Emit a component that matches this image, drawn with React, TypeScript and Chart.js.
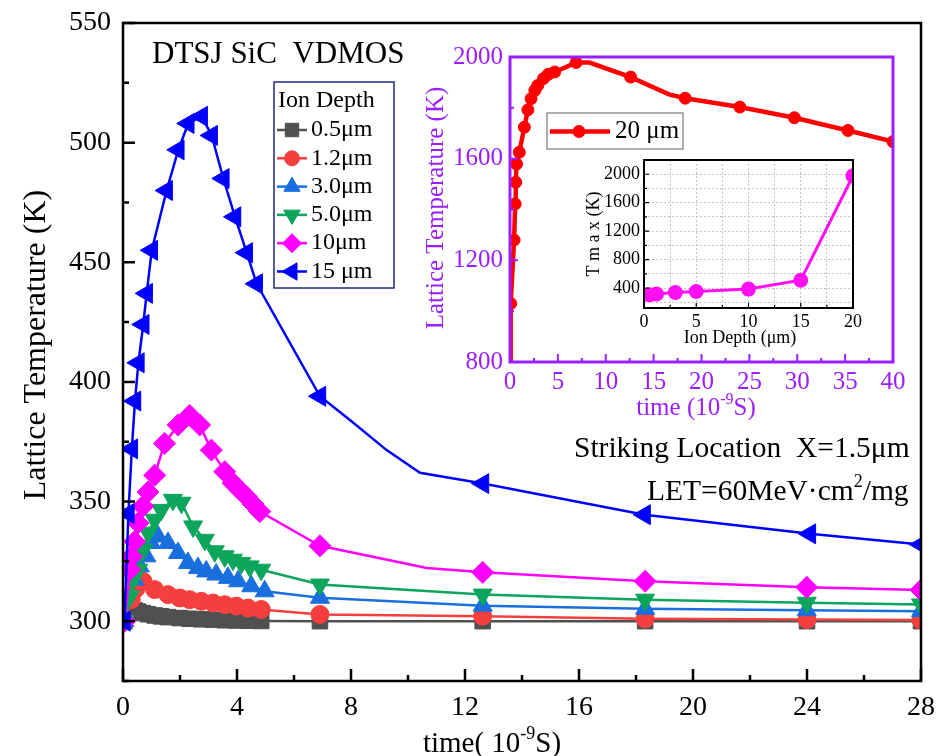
import React, { useEffect, useRef } from "react";
import { Chart, registerables } from "chart.js";
import { drawPoint } from "chart.js/helpers";

Chart.register(...registerables);

const FONT = '"Liberation Serif", "Times New Roman", serif';
const PURPLE = "#9B1EFF";

// ---------- main chart data ----------
const mainXTicks = [0, 4, 8, 12, 16, 20, 24, 28];
const mainXMinor = [2, 6, 10, 14, 18, 22, 26];
const mainYTicks = [300, 350, 400, 450, 500, 550];
const mainYMinor = [275, 325, 375, 425, 475, 525];

const seriesLabels = ["0.5μm", "1.2μm", "3.0μm", "5.0μm", "10μm", "15 μm"];

const time05 = [0.05, 0.29, 0.41, 0.53, 0.7, 0.88, 1.11, 1.34, 1.58, 1.99, 2.34, 2.75, 3.16, 3.57, 3.98, 4.39, 4.85, 6.91, 12.62, 18.32, 24, 28];
const temp05 = [300, 305, 304.5, 304, 303.4, 302.9, 302.4, 302, 301.7, 301.3, 301, 300.8, 300.6, 300.4, 300.3, 300.2, 300.1, 300, 300, 300, 300, 300];

const time12 = [0.05, 0.29, 0.45, 0.7, 1.11, 1.58, 1.99, 2.34, 2.75, 3.16, 3.57, 3.98, 4.39, 4.85, 6.91, 12.62, 18.32, 24, 28];
const temp12 = [300, 309, 313.5, 316.7, 313.2, 311.1, 309.7, 309, 308.3, 307.6, 306.9, 306.3, 305.5, 304.9, 302.8, 302.1, 301, 300.7, 300.5];

const time30 = [0.05, 0.41, 0.59, 0.82, 0.99, 1.23, 1.58, 1.93, 2.28, 2.63, 2.92, 3.27, 3.68, 4.04, 4.5, 4.97, 6.91, 12.62, 18.32, 23.99, 28];
const temp30 = [300, 317.4, 322.9, 327.1, 332.7, 335.4, 332.7, 328.5, 324.3, 322.2, 320.8, 319.5, 318.1, 316.7, 314.6, 312.5, 309.8, 306.5, 305.2, 304.6, 304.2];

const time50 = [0.05, 0.24, 0.35, 0.53, 0.7, 0.88, 1.11, 1.34, 1.75, 2.05, 2.46, 2.87, 3.22, 3.57, 3.86, 4.15, 4.45, 4.85, 6.91, 12.62, 18.32, 23.99, 28];
const temp50 = [300, 310.4, 317.4, 321.5, 329.9, 337, 342.4, 346.5, 350.7, 349.5, 339.6, 334, 329.2, 327.1, 325.7, 324.3, 322.9, 321.5, 315.3, 311.1, 309, 307.7, 307];

const time10 = [0.05, 0.24, 0.29, 0.41, 0.53, 0.7, 0.88, 1.11, 1.46, 1.93, 2.34, 2.69, 3.1, 3.57, 3.86, 4.09, 4.33, 4.56, 4.8, 6.91, 10.66, 12.62, 18.32, 23.99, 28];
const temp10 = [300, 321.5, 327, 333.3, 341, 348, 354, 361, 374.3, 382, 386, 382, 371.5, 362.5, 357.7, 354.9, 352.1, 349, 345.8, 331.5, 322.2, 320.4, 316.7, 314.2, 313];
const mark10 = [1, 1, 1, 1, 1, 1, 1, 1, 1, 1, 1, 1, 1, 1, 1, 1, 1, 1, 1, 1, 0, 1, 1, 1, 1];

const time15 = [0.05, 0.19, 0.31, 0.42, 0.54, 0.71, 0.83, 1.01, 1.53, 1.94, 2.29, 2.76, 3.11, 3.52, 3.93, 4.34, 4.69, 6.91, 8.07, 9.25, 10.42, 12.63, 18.3, 24.1, 28];
const temp15 = [300, 345, 372, 392, 408, 424, 437, 455, 480, 497, 508, 511, 503, 485, 469, 454, 441, 394, 383, 371.5, 362, 357.5, 344.5, 336.5, 332];
const mark15 = [1, 1, 1, 1, 1, 1, 1, 1, 1, 1, 1, 1, 1, 1, 1, 1, 1, 1, 0, 0, 0, 1, 1, 1, 1];

// ---------- inset 1 (20 μm) ----------
const in1XTicks = [0, 5, 10, 15, 20, 25, 30, 35, 40];
const in1XMinor = [2.5, 7.5, 12.5, 17.5, 22.5, 27.5, 32.5, 37.5];
const in1YTicks = [800, 1200, 1600, 2000];
const in1YMinor = [1000, 1400, 1800];
const time20 = [0.04, 0.07, 0.43, 0.54, 0.6, 0.68, 0.97, 1.5, 1.87, 2.2, 2.6, 2.9, 3.5, 4.0, 4.67, 6.9, 8.3, 12.6, 16.6, 18.3, 24.0, 29.7, 35.3, 40];
const temp20 = [800, 1030, 1280, 1422, 1507, 1579, 1625, 1724, 1792, 1836, 1869, 1888, 1915, 1932, 1941, 1978, 1978, 1921, 1853, 1838, 1803, 1761, 1711, 1667];
const mark20 = [0, 1, 1, 1, 1, 1, 1, 1, 1, 1, 1, 1, 1, 1, 1, 1, 0, 1, 0, 1, 1, 1, 1, 1];

// ---------- inset 2 (Tmax vs ion depth) ----------
const in2XGrid = [0, 2.5, 5, 7.5, 10, 12.5, 15, 17.5, 20];
const in2XLabels = [0, 5, 10, 15, 20];
const in2YGrid = [200, 400, 600, 800, 1000, 1200, 1400, 1600, 1800, 2000, 2200];
const in2YLabels = [400, 800, 1200, 1600, 2000];
const ionDepth = [0.5, 1.2, 3.0, 5.0, 10, 15, 20];
const tMax = [305, 317, 337, 351, 386, 511, 1978];

type Part = { t: string; sup?: boolean };
type TextItem = { parts: Part[]; x: number; y: number; size: number; color?: string; align?: "left" | "center"; rotate?: number };

function drawRich(ctx: CanvasRenderingContext2D, it: TextItem) {
  ctx.save();
  ctx.translate(it.x, it.y);
  if (it.rotate) ctx.rotate(it.rotate);
  ctx.fillStyle = it.color || "#000";
  ctx.textBaseline = "middle";
  ctx.textAlign = "left";
  const f = (p: Part) => `${p.sup ? Math.round(it.size * 0.62) : it.size}px ${FONT}`;
  const widths = it.parts.map((p) => {
    ctx.font = f(p);
    return ctx.measureText(p.t).width;
  });
  const total = widths.reduce((a, b) => a + b, 0);
  let cx = it.align === "center" ? -total / 2 : 0;
  it.parts.forEach((p, i) => {
    ctx.font = f(p);
    ctx.fillText(p.t, cx, p.sup ? -it.size * 0.33 : 0);
    cx += widths[i];
  });
  ctx.restore();
}

function textPlugin(items: TextItem[]) {
  return {
    id: "texts",
    afterDraw(chart: any) {
      items.forEach((it) => drawRich(chart.ctx, it));
    },
  };
}

function framePlugin(cfg: { color: string; width: number; tickWidth: number; major: number; minor: number; xMajor: number[]; xMinor: number[]; yMajor: number[]; yMinor: number[] }) {
  return {
    id: "frameTicks",
    afterDatasetsDraw(chart: any) {
      const { ctx, chartArea: a } = chart;
      const xs = chart.scales.x;
      const ys = chart.scales.y;
      ctx.save();
      ctx.strokeStyle = cfg.color;
      ctx.lineWidth = cfg.tickWidth;
      ctx.beginPath();
      const xt = (v: number, len: number) => {
        const p = xs.getPixelForValue(v);
        ctx.moveTo(p, a.bottom);
        ctx.lineTo(p, a.bottom - len);
      };
      const yt = (v: number, len: number) => {
        const p = ys.getPixelForValue(v);
        ctx.moveTo(a.left, p);
        ctx.lineTo(a.left + len, p);
      };
      cfg.xMajor.forEach((v) => xt(v, cfg.major));
      cfg.xMinor.forEach((v) => xt(v, cfg.minor));
      cfg.yMajor.forEach((v) => yt(v, cfg.major));
      cfg.yMinor.forEach((v) => yt(v, cfg.minor));
      ctx.stroke();
      ctx.lineWidth = cfg.width;
      ctx.strokeRect(a.left, a.top, a.right - a.left, a.bottom - a.top);
      ctx.restore();
    },
  };
}

type Legend = { box: [number, number, number, number]; boxColor: string; boxWidth: number; title?: string; titleY?: number; x0: number; x1: number; xm: number; xt: number; ys: number[]; size: number };

function legendPlugin(cfg: Legend) {
  return {
    id: "customLegend",
    afterDatasetsDraw(chart: any) {
      const ctx = chart.ctx as CanvasRenderingContext2D;
      const [bx, by, bw, bh] = cfg.box;
      ctx.save();
      ctx.fillStyle = "#fff";
      ctx.fillRect(bx, by, bw, bh);
      ctx.strokeStyle = cfg.boxColor;
      ctx.lineWidth = cfg.boxWidth;
      ctx.strokeRect(bx, by, bw, bh);
      ctx.font = `${cfg.size}px ${FONT}`;
      ctx.textBaseline = "middle";
      ctx.textAlign = "left";
      if (cfg.title) {
        ctx.fillStyle = "#000";
        ctx.fillText(cfg.title, bx + 4, cfg.titleY as number);
      }
      chart.data.datasets.forEach((ds: any, i: number) => {
        const y = cfg.ys[i];
        ctx.strokeStyle = ds.borderColor;
        ctx.lineWidth = ds.borderWidth;
        ctx.beginPath();
        ctx.moveTo(cfg.x0, y);
        ctx.lineTo(cfg.x1, y);
        ctx.stroke();
        ctx.fillStyle = ds.borderColor;
        ctx.lineWidth = 1;
        drawPoint(ctx, { pointStyle: ds.pointStyle, rotation: ds.pointRotation || 0, radius: ds.legendRadius, borderWidth: 1 }, cfg.xm, y);
        ctx.fillStyle = "#000";
        ctx.fillText(ds.label, cfg.xt, y);
      });
      ctx.restore();
    },
  };
}

function makeSeries(label: string, times: number[], temps: number[], color: string, style: string, rot: number, r: number, marks?: number[], order = 0) {
  return {
    label,
    data: times.map((t, i) => ({ x: t, y: temps[i] })),
    borderColor: color,
    backgroundColor: color,
    pointBackgroundColor: color,
    pointBorderColor: color,
    pointBorderWidth: 1,
    borderWidth: 2.5,
    pointStyle: style,
    pointRotation: rot,
    pointRadius: marks ? (c: any) => (marks[c.dataIndex] ? r : 0) : r,
    legendRadius: r - 1.5,
    tension: 0,
    order,
  };
}

function fixedTicks(vals: number[]) {
  return (s: any) => {
    s.ticks = vals.map((v) => ({ value: v }));
  };
}

const TICKS = (size: number, pad: number, color = "#000") => ({
  font: { family: FONT, size },
  color,
  padding: pad,
  maxRotation: 0,
  autoSkip: false,
  callback: (v: any) => String(v),
});

const fitX = (h: number) => (s: any) => {
  s.height = h;
  s.paddingLeft = 0;
  s.paddingRight = 0;
};
const fitY = (w: number) => (s: any) => {
  s.width = w;
  s.paddingTop = 0;
  s.paddingBottom = 0;
};

export default function App() {
  const mainRef = useRef<HTMLCanvasElement>(null);
  const in1Ref = useRef<HTMLCanvasElement>(null);
  const in2Ref = useRef<HTMLCanvasElement>(null);

  useEffect(() => {
    const charts: Chart[] = [];

    // ---- main chart ----
    const mainDatasets = [
      makeSeries(seriesLabels[0], time05, temp05, "#505050", "rect", 0, 11, undefined, 0),
      makeSeries(seriesLabels[1], time12, temp12, "#F53F3F", "circle", 0, 9, undefined, -1),
      makeSeries(seriesLabels[2], time30, temp30, "#1A6FDF", "triangle", 0, 11, undefined, -2),
      makeSeries(seriesLabels[3], time50, temp50, "#0CA55B", "triangle", 180, 11, undefined, -3),
      makeSeries(seriesLabels[4], time10, temp10, "#FF00FF", "rectRot", 0, 11, mark10, -4),
      makeSeries(seriesLabels[5], time15, temp15, "#0000FF", "triangle", 270, 11.5, mark15, -5),
    ];
    charts.push(
      new Chart(mainRef.current as HTMLCanvasElement, {
        type: "line",
        data: { datasets: mainDatasets as any },
        options: {
          responsive: false,
          animation: false,
          devicePixelRatio: 1,
          events: [],
          layout: { padding: { left: 0, right: 19, top: 23, bottom: 0 } },
          plugins: { legend: { display: false }, tooltip: { enabled: false } },
          scales: {
            x: {
              type: "linear",
              min: 0,
              max: 28,
              afterBuildTicks: fixedTicks(mainXTicks),
              ticks: TICKS(28, 10),
              grid: { display: false, drawTicks: false },
              border: { display: false },
              afterFit: fitX(75),
            },
            y: {
              type: "linear",
              min: 275,
              max: 550,
              afterBuildTicks: fixedTicks(mainYTicks),
              ticks: TICKS(28, 12),
              grid: { display: false, drawTicks: false },
              border: { display: false },
              afterFit: fitY(123),
            },
          },
        } as any,
        plugins: [
          framePlugin({ color: "#000", width: 2.5, tickWidth: 2.5, major: 12, minor: 6, xMajor: mainXTicks, xMinor: mainXMinor, yMajor: mainYTicks, yMinor: mainYMinor }),
          legendPlugin({ box: [274, 82, 120, 206], boxColor: "#1F2A78", boxWidth: 1.5, title: "Ion Depth", titleY: 101, x0: 277, x1: 307, xm: 292, xt: 311, ys: [130, 158.3, 186.6, 214.9, 243.2, 271.5], size: 24 }),
          textPlugin([
            { parts: [{ t: "DTSJ SiC  VDMOS" }], x: 152, y: 55, size: 31 },
            { parts: [{ t: "Striking Location  X=1.5μm" }], x: 574, y: 449, size: 29.5 },
            { parts: [{ t: "LET=60MeV·cm" }, { t: "2", sup: true }, { t: "/mg" }], x: 647, y: 492, size: 29.5 },
            { parts: [{ t: "Lattice Temperature (K)" }], x: 37, y: 345, size: 32, align: "center", rotate: -Math.PI / 2 },
            { parts: [{ t: "time( 10" }, { t: "-9", sup: true }, { t: "S)" }], x: 492, y: 744, size: 29, align: "center" },
          ]),
        ],
      })
    );

    // ---- inset 1 ----
    const ds20 = makeSeries("20 μm", time20, temp20, "#FF0000", "circle", 0, 6, mark20, 0);
    (ds20 as any).borderWidth = 4.5;
    (ds20 as any).legendRadius = 6;
    charts.push(
      new Chart(in1Ref.current as HTMLCanvasElement, {
        type: "line",
        data: { datasets: [ds20] as any },
        options: {
          responsive: false,
          animation: false,
          devicePixelRatio: 1,
          events: [],
          layout: { padding: { left: 0, right: 27, top: 27, bottom: 0 } },
          plugins: { legend: { display: false }, tooltip: { enabled: false } },
          scales: {
            x: {
              type: "linear",
              min: 0,
              max: 40,
              afterBuildTicks: fixedTicks(in1XTicks),
              ticks: TICKS(25, 5, PURPLE),
              grid: { display: false, drawTicks: false },
              border: { display: false },
              afterFit: fitX(68),
            },
            y: {
              type: "linear",
              min: 800,
              max: 2000,
              afterBuildTicks: fixedTicks(in1YTicks),
              ticks: TICKS(25, 7, PURPLE),
              grid: { display: false, drawTicks: false },
              border: { display: false },
              afterFit: fitY(110),
            },
          },
        } as any,
        plugins: [
          framePlugin({ color: PURPLE, width: 3, tickWidth: 2, major: 8, minor: 4, xMajor: in1XTicks, xMinor: in1XMinor, yMajor: in1YTicks, yMinor: in1YMinor }),
          legendPlugin({ box: [147, 83, 136, 36], boxColor: "#7a7a7a", boxWidth: 1.2, x0: 150, x1: 210, xm: 179, xt: 215, ys: [101.5], size: 25 }),
          textPlugin([
            { parts: [{ t: "Lattice Temperature (K)" }], x: 36, y: 178, size: 25, color: PURPLE, align: "center", rotate: -Math.PI / 2 },
            { parts: [{ t: "time (10" }, { t: "-9", sup: true }, { t: "S)" }], x: 296, y: 378, size: 25, color: PURPLE, align: "center" },
          ]),
        ],
      })
    );

    // ---- inset 2 ----
    const dsT = {
      label: "Tmax",
      data: ionDepth.map((d, i) => ({ x: d, y: tMax[i] })),
      borderColor: "#FF10F0",
      backgroundColor: "#FF10F0",
      pointBackgroundColor: "#FF10F0",
      pointBorderColor: "#FF10F0",
      borderWidth: 3,
      pointRadius: 6,
      pointStyle: "circle",
      tension: 0,
    };
    const whiteArea = {
      id: "whiteArea",
      beforeDraw(chart: any) {
        const a = chart.chartArea;
        chart.ctx.save();
        chart.ctx.fillStyle = "#fff";
        chart.ctx.fillRect(a.left, a.top, a.right - a.left, a.bottom - a.top);
        chart.ctx.restore();
      },
    };
    charts.push(
      new Chart(in2Ref.current as HTMLCanvasElement, {
        type: "line",
        data: { datasets: [dsT] as any },
        options: {
          responsive: false,
          animation: false,
          devicePixelRatio: 1,
          events: [],
          layout: { padding: { left: 0, right: 17, top: 10, bottom: 0 } },
          plugins: { legend: { display: false }, tooltip: { enabled: false } },
          scales: {
            x: {
              type: "linear",
              min: 0,
              max: 20,
              afterBuildTicks: fixedTicks(in2XGrid),
              ticks: { ...TICKS(18, 3), callback: (v: any) => (in2XLabels.includes(v) ? String(v) : "") },
              grid: { display: true, drawTicks: false, color: "#c4c4c4", lineWidth: 1 },
              border: { display: false, dash: [2, 2] },
              afterFit: fitX(52),
            },
            y: {
              type: "linear",
              min: 120,
              max: 2200,
              afterBuildTicks: fixedTicks(in2YGrid),
              ticks: { ...TICKS(18, 4), callback: (v: any) => (in2YLabels.includes(v) ? String(v) : "") },
              grid: { display: true, drawTicks: false, color: "#c4c4c4", lineWidth: 1 },
              border: { display: false, dash: [2, 2] },
              afterFit: fitY(74),
            },
          },
        } as any,
        plugins: [
          whiteArea,
          framePlugin({ color: "#000", width: 2, tickWidth: 1.2, major: 5, minor: 3, xMajor: in2XLabels, xMinor: [2.5, 7.5, 12.5, 17.5], yMajor: in2YLabels, yMinor: [600, 1000, 1400, 1800] }),
          textPlugin([
            { parts: [{ t: "Ion Depth (μm)" }], x: 170, y: 188, size: 18, align: "center" },
            { parts: [{ t: "T m a x (K)" }], x: 24, y: 84, size: 18, align: "center", rotate: -Math.PI / 2 },
          ]),
        ],
      })
    );

    return () => charts.forEach((c) => c.destroy());
  }, []);

  return (
    <div style={{ position: "absolute", left: 0, top: 0, width: 940, height: 756, background: "#fff", overflow: "hidden" }}>
      <canvas ref={mainRef} width={940} height={756} style={{ position: "absolute", left: 0, top: 0 }} />
      <canvas ref={in1Ref} width={520} height={400} style={{ position: "absolute", left: 400, top: 30 }} />
      <canvas ref={in2Ref} width={300} height={210} style={{ position: "absolute", left: 570, top: 150 }} />
    </div>
  );
}
